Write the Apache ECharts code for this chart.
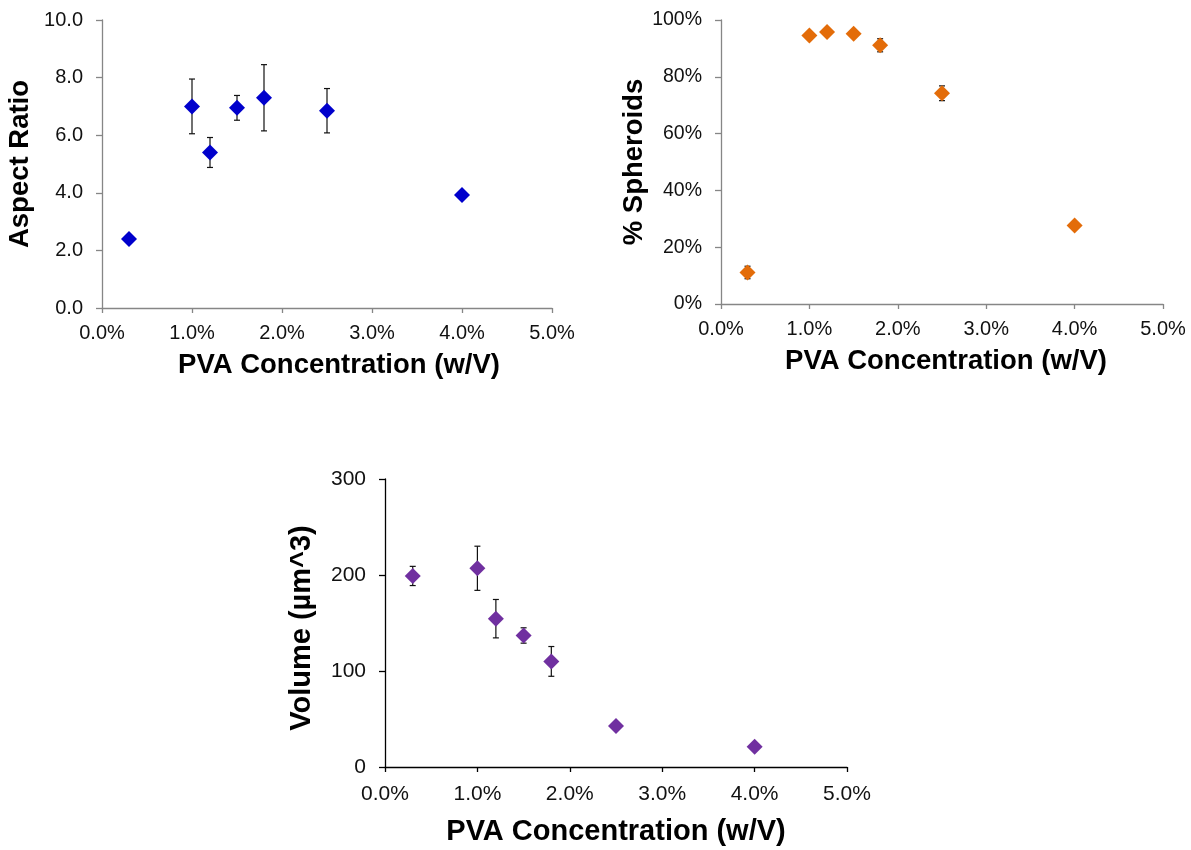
<!DOCTYPE html>
<html>
<head>
<meta charset="utf-8">
<title>PVA Concentration</title>
<script src="https://cdn.jsdelivr.net/npm/echarts@6/dist/echarts.min.js"></script>
<style>
  html, body { margin: 0; padding: 0; background: #ffffff; }
  #chart { width: 1191px; height: 850px; }
</style>
</head>
<body>
<div id="chart"></div>
<script>
// PVA concentration (% w/V) shared by all three panels
const concentration = [0.3, 1.0, 1.2, 1.5, 1.8, 2.5, 4.0];

// Panel 1: aspect ratio with standard deviation
const aspectRatio = [2.4, 7.0, 5.4, 6.95, 7.3, 6.85, 3.92];
const aspectRatioErr = [0, 0.95, 0.52, 0.43, 1.15, 0.77, 0];

// Panel 2: fraction of spheroids (%)
const spheroids = [11.1, 94.5, 95.8, 95.2, 91.1, 74.2, 27.6];
const spheroidsErr = [2.2, 0, 0, 0, 2.3, 2.6, 0];

// Panel 3: volume (µm^3)
const volume = [199, 207, 154.5, 137, 110, 42.7, 21.1];
const volumeErr = [10, 23, 20, 8, 15.5, 0, 0];

const FONT = '"Liberation Sans", Arial, sans-serif';

function points(ys) {
  return concentration.map((x, i) => [x, ys[i]]);
}
function errorRows(ys, errs) {
  const rows = [];
  concentration.forEach((x, i) => {
    if (errs[i] > 0) rows.push([x, ys[i] - errs[i], ys[i] + errs[i]]);
  });
  return rows;
}
function renderErrorBar(params, api) {
  const x = api.value(0);
  const top = api.coord([x, api.value(2)]);
  const bot = api.coord([x, api.value(1)]);
  const half = 3;
  const style = { stroke: '#111111', lineWidth: 1.2 };
  return {
    type: 'group',
    children: [
      { type: 'line', shape: { x1: top[0], y1: top[1], x2: bot[0], y2: bot[1] }, style },
      { type: 'line', shape: { x1: top[0] - half, y1: top[1], x2: top[0] + half, y2: top[1] }, style },
      { type: 'line', shape: { x1: bot[0] - half, y1: bot[1], x2: bot[0] + half, y2: bot[1] }, style }
    ]
  };
}

function xAxisFor(gridIndex, color, s) {
  return {
    type: 'value', gridIndex, min: 0, max: 5, interval: 1,
    name: 'PVA Concentration (w/V)', nameLocation: 'middle', nameGap: s.nameGap,
    nameTextStyle: { fontFamily: FONT, fontSize: s.titleSize, fontWeight: 'bold', color: '#000', padding: s.namePad },
    axisLine: { show: true, onZero: false, lineStyle: { color, width: 1.3 } },
    axisTick: { show: true, length: 5, lineStyle: { color, width: 1.3 } },
    axisLabel: { fontFamily: FONT, fontSize: s.labelSize, color: '#111', margin: s.labelMargin,
      formatter: v => v.toFixed(1) + '%' },
    splitLine: { show: false }
  };
}
function yAxisFor(gridIndex, color, name, max, interval, fmt, s) {
  return {
    type: 'value', gridIndex, min: 0, max, interval,
    name, nameLocation: 'middle', nameGap: s.nameGap,
    nameTextStyle: { fontFamily: FONT, fontSize: s.titleSize, fontWeight: 'bold', color: '#000', padding: s.namePad },
    axisLine: { show: true, onZero: false, lineStyle: { color, width: 1.3 } },
    axisTick: { show: true, length: 6, lineStyle: { color, width: 1.3 } },
    axisLabel: { fontFamily: FONT, fontSize: s.labelSize, color: '#111', margin: 19, formatter: fmt },
    splitLine: { show: false }
  };
}
function scatter(idx, ys, color) {
  return {
    type: 'scatter', xAxisIndex: idx, yAxisIndex: idx,
    data: points(ys), symbol: 'diamond', symbolSize: 16,
    itemStyle: { color, opacity: 1 }, z: 3, silent: true
  };
}
function errors(idx, ys, errs) {
  return {
    type: 'custom', xAxisIndex: idx, yAxisIndex: idx,
    data: errorRows(ys, errs), renderItem: renderErrorBar, z: 2, silent: true
  };
}

const chart = echarts.init(document.getElementById('chart'), null, { renderer: 'canvas' });
chart.setOption({
  backgroundColor: '#ffffff',
  animation: false,
  grid: [
    { left: 102, top: 20, width: 450, height: 288 },
    { left: 721, top: 20, width: 442, height: 284 },
    { left: 385, top: 479, width: 462, height: 288 }
  ],
  xAxis: [
    xAxisFor(0, '#868686', { nameGap: 43, namePad: [0, 0, 0, 24], titleSize: 27.5, labelSize: 20, labelMargin: 15 }),
    xAxisFor(1, '#868686', { nameGap: 43, namePad: [0, 0, 0, 8], titleSize: 27.5, labelSize: 20, labelMargin: 15 }),
    xAxisFor(2, '#000000', { nameGap: 50, namePad: [0, 0, 0, 0], titleSize: 29, labelSize: 21, labelMargin: 17 })
  ],
  yAxis: [
    yAxisFor(0, '#868686', 'Aspect Ratio', 10, 2, v => v.toFixed(1), { nameGap: 68, namePad: 0, titleSize: 27.5, labelSize: 20 }),
    yAxisFor(1, '#868686', '% Spheroids', 100, 20, v => v + '%', { nameGap: 71, namePad: 0, titleSize: 27.5, labelSize: 19.5 }),
    yAxisFor(2, '#000000', 'Volume (µm^3)', 300, 100, v => String(v), { nameGap: 69, namePad: [0, 10, 0, 0], titleSize: 29, labelSize: 21 })
  ],
  series: [
    errors(0, aspectRatio, aspectRatioErr),
    scatter(0, aspectRatio, '#0000CC'),
    errors(1, spheroids, spheroidsErr),
    scatter(1, spheroids, '#E36C09'),
    errors(2, volume, volumeErr),
    scatter(2, volume, '#7030A0')
  ]
});
</script>
</body>
</html>
